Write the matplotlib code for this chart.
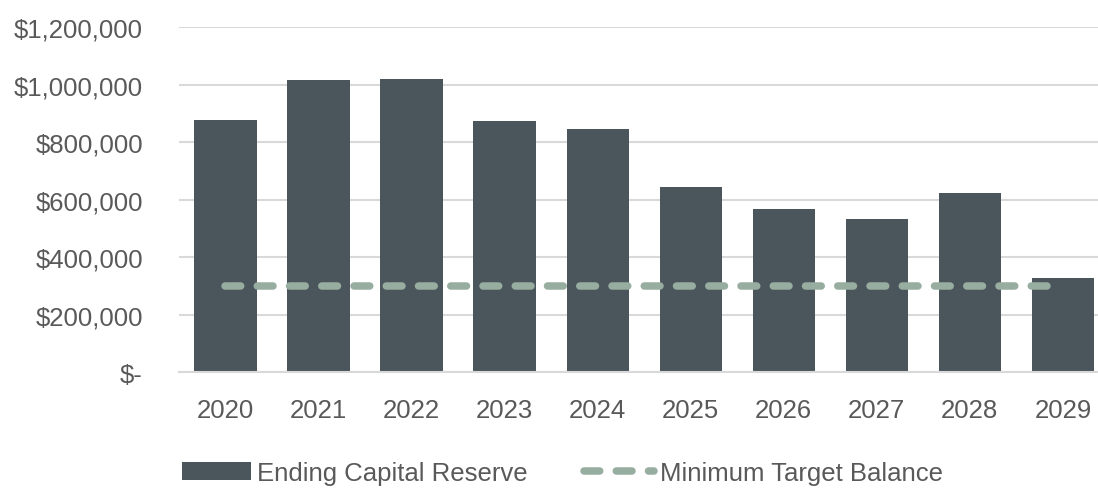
import matplotlib.pyplot as plt
from matplotlib.ticker import FuncFormatter

years = ['2020', '2021', '2022', '2023', '2024', '2025', '2026', '2027', '2028', '2029']
ending_reserve = [878000, 1017000, 1021000, 875000, 847000, 645000, 568000, 533000, 624000, 327000]
min_target = [300000] * 10
y_ticks = [0, 200000, 400000, 600000, 800000, 1000000, 1200000]

plt.rcParams['font.family'] = ['Liberation Sans', 'DejaVu Sans']


def money(v, pos):
    if v == 0:
        return '$-'
    return '${:,.0f}'.format(v)


def plot_data():
    fig = plt.figure(figsize=(10.98, 4.89), dpi=100)
    ax = fig.add_axes([0.163, 0.237, 0.837, 0.705])

    x = list(range(len(years)))
    bars = ax.bar(x, ending_reserve, width=0.67, color='#4a555c', label='Ending Capital Reserve', zorder=2)
    line, = ax.plot(x, min_target, color='#97ad9f', linewidth=5.4, linestyle=(0, (2.1, 2.2)),
                    dash_capstyle='round', label='Minimum Target Balance', zorder=3)

    ax.set_ylim(0, 1200000)
    ax.set_xlim(-0.5, 9.377)
    ax.set_yticks(y_ticks)
    ax.yaxis.set_major_formatter(FuncFormatter(money))
    ax.set_xticks(x)
    ax.set_xticklabels(years)
    ax.grid(axis='y', color='#d9d9d9', linewidth=1.5, zorder=0)
    ax.set_axisbelow(True)
    for side in ['left', 'right', 'top']:
        ax.spines[side].set_visible(False)
    ax.spines['bottom'].set_color('#d9d9d9')
    ax.spines['bottom'].set_linewidth(1.5)
    ax.tick_params(length=0, labelsize=18.5, colors='#595959')
    ax.tick_params(axis='y', pad=26)
    ax.tick_params(axis='x', pad=19)

    ax.legend([bars, line], ['Ending Capital Reserve', 'Minimum Target Balance'],
              loc='center left', bbox_to_anchor=(0.0, -0.294), ncol=2, frameon=False,
              fontsize=18.5, labelcolor='#595959', handlelength=2.7, handletextpad=0.25,
              columnspacing=2.2, borderaxespad=0, borderpad=0.1)

    fig.savefig('out.png', dpi=100)


if __name__ == '__main__':
    plot_data()
